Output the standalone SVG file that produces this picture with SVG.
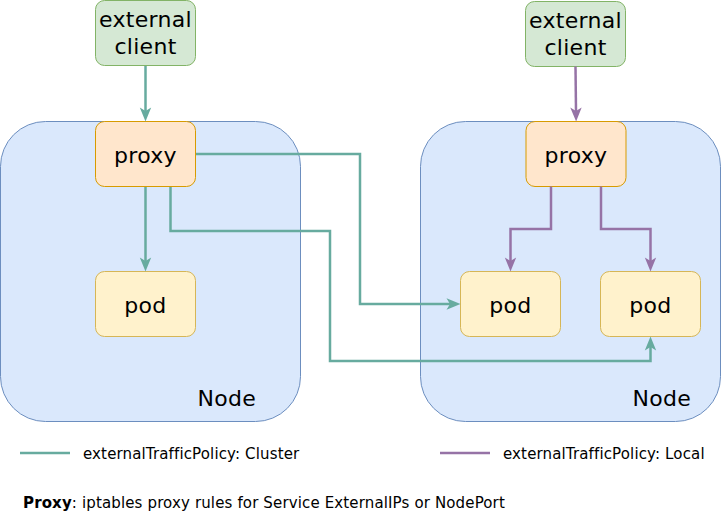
<svg xmlns="http://www.w3.org/2000/svg" width="721" height="512" viewBox="0 0 721 512">
<style>
.node{fill:#dae8fc;stroke:#6c8ebf;stroke-width:1}
.client{fill:#d5e8d4;stroke:#82b366;stroke-width:1}
.proxy{fill:#ffe6cc;stroke:#d79b00;stroke-width:1}
.pod{fill:#fff2cc;stroke:#d6b656;stroke-width:1}
.big{font-family:"DejaVu Sans",Verdana,sans-serif;font-size:22px;letter-spacing:0.3px;fill:#000}
.small{font-family:"DejaVu Sans",Verdana,sans-serif;font-size:15px;letter-spacing:0.14px;fill:#000}
.teal{fill:none;stroke:#67ab9f;stroke-width:2.5}
.purple{fill:none;stroke:#9673a6;stroke-width:2.5}
</style>
<defs>
<marker id="at" markerUnits="userSpaceOnUse" markerWidth="16" markerHeight="14" viewBox="-1 -7 16 14" refX="3.5" refY="0" orient="auto">
<path d="M14,0 L0,-5.7 L3.5,0 L0,5.7 Z" fill="#67ab9f"/>
</marker>
<marker id="ap" markerUnits="userSpaceOnUse" markerWidth="16" markerHeight="14" viewBox="-1 -7 16 14" refX="3.5" refY="0" orient="auto">
<path d="M14,0 L0,-5.7 L3.5,0 L0,5.7 Z" fill="#9673a6"/>
</marker>
</defs>
<g id="node-left"><rect class="node" x="0.5" y="121.5" width="300" height="300" rx="45"/><text class="big" x="256" y="406" text-anchor="end">Node</text></g>
<g id="node-right"><rect class="node" x="420.5" y="121.5" width="300" height="300" rx="45"/><text class="big" x="691" y="406" text-anchor="end">Node</text></g>
<g id="client-left"><rect class="client" x="95.5" y="0.5" width="100" height="65" rx="9"/><text class="big" x="145.5" y="27" text-anchor="middle">external</text><text class="big" x="145.5" y="54" text-anchor="middle">client</text></g>
<g id="client-right"><rect class="client" x="525.5" y="1.5" width="100" height="65" rx="9"/><text class="big" x="575.5" y="28" text-anchor="middle">external</text><text class="big" x="575.5" y="55" text-anchor="middle">client</text></g>
<g id="proxy-left"><rect class="proxy" x="95.5" y="121.5" width="100" height="65" rx="9"/><text class="big" x="145.5" y="163" text-anchor="middle">proxy</text></g>
<g id="proxy-right"><rect class="proxy" x="526" y="121.5" width="100" height="65" rx="9"/><text class="big" x="576" y="163" text-anchor="middle">proxy</text></g>
<g id="pod-left"><rect class="pod" x="95.5" y="271.5" width="100" height="65" rx="9"/><text class="big" x="145.5" y="313" text-anchor="middle">pod</text></g>
<g id="pod-right1"><rect class="pod" x="460.5" y="271.5" width="100" height="65" rx="9"/><text class="big" x="510.5" y="313" text-anchor="middle">pod</text></g>
<g id="pod-right2"><rect class="pod" x="600.5" y="271.5" width="100" height="65" rx="9"/><text class="big" x="650.5" y="313" text-anchor="middle">pod</text></g>
<g id="connectors">
<path class="teal" d="M145.5,66 V111" marker-end="url(#at)"/>
<path class="teal" d="M145.5,187 V261" marker-end="url(#at)"/>
<path class="teal" d="M196,154 H360 V304 H450" marker-end="url(#at)"/>
<path class="teal" d="M170.5,187 V231 H330 V361 H650.5 V347" marker-end="url(#at)"/>
<path class="purple" d="M575.5,66.5 L576,111" marker-end="url(#ap)"/>
<path class="purple" d="M551,186.5 V229 H510.5 V261" marker-end="url(#ap)"/>
<path class="purple" d="M601,186.5 V229 H650.5 V261" marker-end="url(#ap)"/>
</g>
<g id="legend">
<path class="teal" d="M20,453 H70"/>
<text class="small" x="83" y="459">externalTrafficPolicy: Cluster</text>
<path class="purple" d="M440,453 H490"/>
<text class="small" x="503" y="459">externalTrafficPolicy: Local</text>
<text class="small" x="23" y="508"><tspan font-weight="bold">Proxy</tspan>: iptables proxy rules for Service ExternalIPs or NodePort</text>
</g>
</svg>
